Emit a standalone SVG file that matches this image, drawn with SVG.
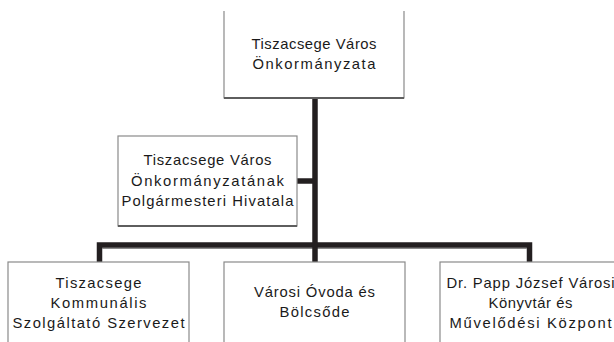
<svg xmlns="http://www.w3.org/2000/svg" width="614" height="342" viewBox="0 0 614 342">
<style>
.box{fill:#fff;stroke:#8a8a8a;stroke-width:1.2}
.shadow{fill:none;stroke:#5e5e5e;stroke-width:2}
.t{font-family:"Liberation Sans",Arial,sans-serif;font-size:14.8px;fill:#1a1a1a;text-anchor:middle;dominant-baseline:central}
.c{fill:none;stroke:#231f20;stroke-width:5.5;stroke-linejoin:miter;stroke-linecap:butt}
.cs{fill:none;stroke:#8a8a8a;stroke-width:1.2}
</style>
<rect width="614" height="342" fill="#fff"/>
<g id="connectors">
<path class="cs" d="M102.3 248.3H526.7"/>
<path class="c" d="M99.5 262V245H529.5V262"/>
<path class="c" d="M315 98V262"/>
<path class="c" d="M297 181H315"/>
</g>
<g id="node-onkormanyzat">
<rect x="224" y="11" width="180" height="87" fill="#fff"/>
<path class="box" d="M224 11V98H404V11"/>
<path class="shadow" d="M224 98H404"/>
<text class="t" x="314" y="43.5" textLength="125" lengthAdjust="spacing">Tiszacsege Város</text>
<text class="t" x="314" y="64" textLength="123" lengthAdjust="spacing">Önkormányzata</text>
</g>
<g id="node-hivatal">
<rect class="box" x="118" y="136" width="179" height="90"/>
<path class="shadow" d="M118 226H297"/>
<text class="t" x="207.5" y="160" textLength="128" lengthAdjust="spacing">Tiszacsege Város</text>
<text class="t" x="207.5" y="180.5" textLength="153" lengthAdjust="spacing">Önkormányzatának</text>
<text class="t" x="207.5" y="201" textLength="172" lengthAdjust="spacing">Polgármesteri Hivatala</text>
</g>
<g id="node-kommunalis">
<rect class="box" x="8" y="262" width="181" height="90"/>
<text class="t" x="98.5" y="282.5" textLength="86" lengthAdjust="spacing">Tiszacsege</text>
<text class="t" x="98.5" y="302.5" textLength="96" lengthAdjust="spacing">Kommunális</text>
<text class="t" x="98.5" y="322.5" textLength="172" lengthAdjust="spacing">Szolgáltató Szervezet</text>
</g>
<g id="node-ovoda">
<rect class="box" x="224" y="262" width="181" height="90"/>
<text class="t" x="314.5" y="292" textLength="121" lengthAdjust="spacing">Városi Óvoda és</text>
<text class="t" x="314.5" y="312" textLength="70" lengthAdjust="spacing">Bölcsőde</text>
</g>
<g id="node-konyvtar">
<rect class="box" x="440" y="262" width="181" height="90"/>
<text class="t" x="530.5" y="282.5" textLength="168" lengthAdjust="spacing">Dr. Papp József Városi</text>
<text class="t" x="530.5" y="302.5" textLength="84" lengthAdjust="spacing">Könyvtár és</text>
<text class="t" x="530.5" y="322.5" textLength="162" lengthAdjust="spacing">Művelődési Központ</text>
</g>
</svg>
